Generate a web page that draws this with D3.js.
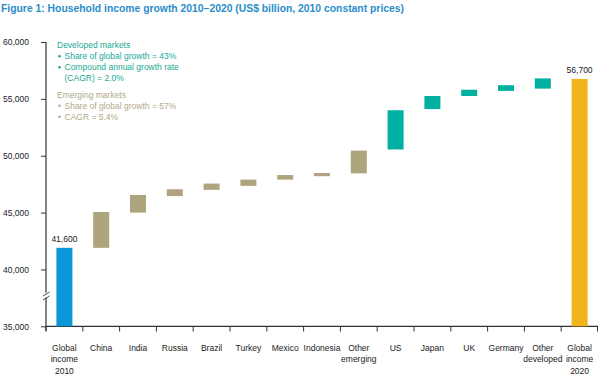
<!DOCTYPE html>
<html><head><meta charset="utf-8">
<script src="https://cdn.jsdelivr.net/npm/d3@7"></script>
<style>
body{margin:0;background:#fff;}
svg{display:block;font-family:"Liberation Sans","Noto Sans",sans-serif;}
</style></head>
<body><svg id="c" width="600" height="379"></svg>
<script>
const categories = [["Global","income","2010"],["China"],["India"],["Russia"],["Brazil"],["Turkey"],["Mexico"],["Indonesia"],["Other","emerging"],["US"],["Japan"],["UK"],["Germany"],["Other","developed"],["Global","income","2020"]];
const lows  = [35000, 41900, 45000, 46450, 47000, 47350, 47900, 48200, 48450, 50550, 54100, 55250, 55700, 55900, 35000];
const highs = [41900, 45050, 46550, 47050, 47550, 47900, 48300, 48480, 50450, 54000, 55250, 55800, 56200, 56800, 56750];
const groups = ["total","emerging","emerging","emerging","emerging","emerging","emerging","emerging","emerging","developed","developed","developed","developed","developed","total2"];
const totalLabels = ["41,600", "56,700"];
const yTicks = [35000, 40000, 45000, 50000, 55000, 60000];
const legendDeveloped = ["Developed markets", "Share of global growth = 43%", "Compound annual growth rate", "(CAGR) = 2.0%"];
const legendEmerging = ["Emerging markets", "Share of global growth = 57%", "CAGR = 5.4%"];

const colors = {total:"#0b97d8", emerging:"#aea47e", developed:"#00b0a0", total2:"#f3b41b"};
const svg = d3.select("#c");
const keys = categories.map((c,i)=>i);

const y = d3.scaleLinear().domain([35000,60000]).range([326.3, 42]);
const x = d3.scaleBand().domain(keys).range([46, 598]).padding(0);
const barW = 16;

// title
svg.append("text").attr("x",1).attr("y",11.5)
  .attr("fill","#2a8dcb").attr("font-size",11).attr("font-weight","bold")
  .attr("textLength",403).attr("lengthAdjust","spacingAndGlyphs")
  .text("Figure 1: Household income growth 2010\u20132020 (US$ billion, 2010 constant prices)");

// y axis
const yAxis = d3.axisLeft(y).tickValues(yTicks).tickFormat(d3.format(",")).tickSize(5).tickPadding(12);
const gy = svg.append("g").attr("transform","translate(46,0)").call(yAxis);
gy.select(".domain").remove();
gy.selectAll(".tick line").attr("stroke","#333");
gy.selectAll(".tick text").attr("fill","#222").attr("font-size",8.5).attr("dy","0.33em");
svg.append("line").attr("x1",46).attr("x2",46).attr("y1",y(60000)).attr("y2",331).attr("stroke","#333").attr("stroke-width",1.2);

// axis break marks
[0,4].forEach(o=>{
  svg.append("line").attr("x1",43).attr("x2",49.5).attr("y1",296+o/2).attr("y2",292+o/2)
    .attr("stroke","#fff").attr("stroke-width",2.2);
});
[0,4].forEach(o=>{
  svg.append("line").attr("x1",43).attr("x2",49.5).attr("y1",297+o - 1).attr("y2",293+o - 1)
    .attr("stroke","#333").attr("stroke-width",0.9);
});

// x axis
svg.append("line").attr("x1",46).attr("x2",598).attr("y1",326.3).attr("y2",326.3).attr("stroke","#333").attr("stroke-width",1.2);
keys.concat([null]).forEach((k,i)=>{
  const xx = i < keys.length ? x(k) : x(keys[keys.length-1]) + x.bandwidth() - 0.5;
  svg.append("line").attr("x1",xx).attr("x2",xx).attr("y1",326.3).attr("y2",331.5).attr("stroke","#333").attr("stroke-width",1);
});
const xl = svg.append("g");
keys.forEach(k=>{
  const t = xl.append("text").attr("text-anchor","middle").attr("font-size",8.5).attr("fill","#222")
    .attr("x", x(k)+x.bandwidth()/2).attr("y",350.5);
  categories[k].forEach((line,j)=>{
    t.append("tspan").attr("x", x(k)+x.bandwidth()/2).attr("dy", j===0?0:11.8).text(line);
  });
});

// bars
svg.append("g").selectAll("rect").data(keys).join("rect")
  .attr("x", k => x(k) + (x.bandwidth()-barW)/2)
  .attr("width", barW)
  .attr("y", k => y(highs[k]))
  .attr("height", k => y(lows[k]) - y(highs[k]))
  .attr("fill", k => colors[groups[k]]);

// total labels
[0, keys.length-1].forEach((k,i)=>{
  svg.append("text").attr("text-anchor","middle").attr("font-size",8.5).attr("fill","#222")
    .attr("x", x(k)+x.bandwidth()/2).attr("y", y(highs[k]) - 6).text(totalLabels[i]);
});

// legend
function legend(lines, color, y0){
  lines.forEach((s,i)=>{
    if(i===0){
      svg.append("text").attr("x",57).attr("y",y0).attr("font-size",8.5).attr("fill",color).text(s);
    } else {
      const bullet = (lines.length===4 && i===3) ? false : true;
      if(bullet) svg.append("circle").attr("cx",59.5).attr("cy",y0+i*11-2.8).attr("r",1.3).attr("fill",color);
      svg.append("text").attr("x",64.5).attr("y",y0+i*11).attr("font-size",8.5).attr("fill",color).text(s);
    }
  });
}
legend(legendDeveloped, "#17a996", 48);
legend(legendEmerging, "#b2aa88", 97.5);
</script></body></html>
